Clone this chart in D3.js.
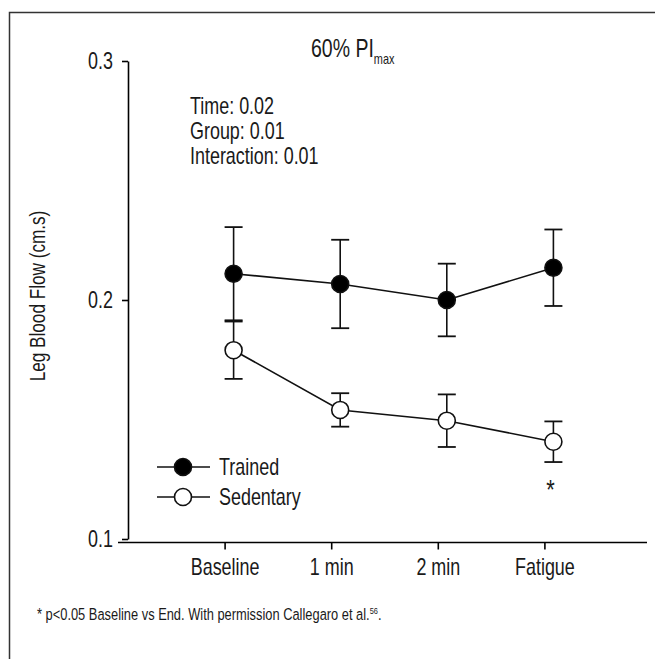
<!DOCTYPE html>
<html>
<head>
<meta charset="utf-8">
<script src="https://cdn.jsdelivr.net/npm/d3@7"></script>
<style>
  body { margin: 0; background: #fff; }
  svg text { font-family: "Liberation Sans", Arial, sans-serif; fill: #1a1a1a; }
</style>
</head>
<body>
<div id="chart"></div>
<script>
// data
var categories = ["Baseline", "1 min", "2 min", "Fatigue"];
var trainedMean = [0.211, 0.2067, 0.200, 0.2135];
var trainedErr  = [0.0195, 0.0185, 0.0152, 0.016];
var sedentaryMean = [0.179, 0.154, 0.1495, 0.1407];
var sedentaryErr  = [0.012, 0.007, 0.011, 0.0085];
var yTicks = [0.1, 0.2, 0.3];
var stats = ["Time: 0.02", "Group: 0.01", "Interaction: 0.01"];

var width = 655, height = 659;
var sx = 0.78; // squeeze text to look like the condensed face of the original

var svg = d3.select("#chart").append("svg")
    .attr("width", width)
    .attr("height", height);

// text placed at (px,py), squeezed horizontally
function label(parent, px, py, size, anchor) {
    return parent.append("text")
        .attr("transform", "translate(" + px + "," + py + ") scale(" + sx + ",1)")
        .attr("text-anchor", anchor || "start")
        .attr("font-size", size);
}

// frame of the figure panel
svg.append("path")
    .attr("d", "M9.5," + height + "V12.5H" + width)
    .attr("fill", "none")
    .attr("stroke", "#333")
    .attr("stroke-width", 1.5);

var x = d3.scalePoint()
    .domain(categories)
    .range([118, 651])
    .padding(1);
var markerShift = 9; // markers sit a little right of the ticks

var y = d3.scaleLinear()
    .domain([0.1, 0.3])
    .range([539, 61]);

// y axis
var yAxis = svg.append("g")
    .attr("transform", "translate(128,0)")
    .call(d3.axisLeft(y).tickValues(yTicks).tickFormat(d3.format(".1f")).tickSize(6).tickSizeOuter(0));
yAxis.select(".domain").attr("stroke-width", 1.6);
yAxis.selectAll(".tick line").attr("stroke-width", 1.6);
yAxis.selectAll("text")
    .attr("font-size", 23)
    .attr("x", -15 / sx)
    .attr("transform", "scale(" + sx + ",1)");

// x axis
var xAxis = svg.append("g")
    .attr("transform", "translate(0,542.5)")
    .call(d3.axisBottom(x).tickSize(7).tickSizeOuter(0));
xAxis.select(".domain").attr("d", "M118,0H647").attr("stroke-width", 1.6);
xAxis.selectAll(".tick line").attr("stroke-width", 1.6);
xAxis.selectAll("text")
    .attr("font-size", 23)
    .attr("dy", "1em")
    .attr("transform", "scale(" + sx + ",1)");
yAxis.attr("font-family", null);
xAxis.attr("font-family", null);

// y label
svg.append("text")
    .attr("transform", "translate(45,296) rotate(-90) scale(" + sx + ",1)")
    .attr("text-anchor", "middle")
    .attr("font-size", 22)
    .text("Leg Blood Flow (cm.s)");

// title
var title = label(svg, 311, 57, 25, "start");
title.append("tspan").text("60% PI");
title.append("tspan").attr("font-size", 14).attr("dy", 7).text("max");

// stats
stats.forEach(function(s, i) {
    label(svg, 190, 114 + i * 25, 23).text(s);
});

function drawSeries(means, errs, fill) {
    var g = svg.append("g");
    var px = function(d, i) { return x(categories[i]) + markerShift; };
    var line = d3.line()
        .x(function(d, i) { return x(categories[i]) + markerShift; })
        .y(function(d) { return y(d); });
    g.append("path")
        .datum(means)
        .attr("d", line)
        .attr("fill", "none")
        .attr("stroke", "#111")
        .attr("stroke-width", 1.6);
    var eb = g.selectAll(".eb").data(means).enter().append("g");
    eb.append("line")
        .attr("x1", px).attr("x2", px)
        .attr("y1", function(d, i) { return y(d + errs[i]); })
        .attr("y2", function(d, i) { return y(d - errs[i]); })
        .attr("stroke", "#111").attr("stroke-width", 1.6);
    [1, -1].forEach(function(s) {
        eb.append("line")
            .attr("x1", function(d, i) { return px(d, i) - 9; })
            .attr("x2", function(d, i) { return px(d, i) + 9; })
            .attr("y1", function(d, i) { return y(d + s * errs[i]); })
            .attr("y2", function(d, i) { return y(d + s * errs[i]); })
            .attr("stroke", "#111").attr("stroke-width", 1.8);
    });
    g.selectAll("circle").data(means).enter().append("circle")
        .attr("cx", px)
        .attr("cy", function(d) { return y(d); })
        .attr("r", 8.5)
        .attr("fill", fill)
        .attr("stroke", "#111")
        .attr("stroke-width", 1.6);
}

drawSeries(trainedMean, trainedErr, "#000");
drawSeries(sedentaryMean, sedentaryErr, "#fff");

// significance mark under Fatigue sedentary
label(svg, x("Fatigue") + markerShift - 3, y(sedentaryMean[3] - sedentaryErr[3]) + 37, 28, "middle").text("*");

// legend
var legend = [{name: "Trained", fill: "#000"}, {name: "Sedentary", fill: "#fff"}];
legend.forEach(function(d, i) {
    var g = svg.append("g").attr("transform", "translate(0," + (467 + i * 30) + ")");
    g.append("line").attr("x1", 157).attr("x2", 210).attr("stroke", "#111").attr("stroke-width", 1.6);
    g.append("circle").attr("cx", 183).attr("r", 8.5)
        .attr("fill", d.fill)
        .attr("stroke", "#111").attr("stroke-width", 1.6);
    label(g, 219, 8, 23).text(d.name);
});

// footnote
var foot = label(svg, 37, 620, 16.5);
foot.append("tspan").text("* p<0.05 Baseline vs End. With permission Callegaro et al.");
foot.append("tspan").attr("font-size", 9.5).attr("dy", -6).text("56");
foot.append("tspan").attr("dy", 6).text(".");
</script>
</body>
</html>
